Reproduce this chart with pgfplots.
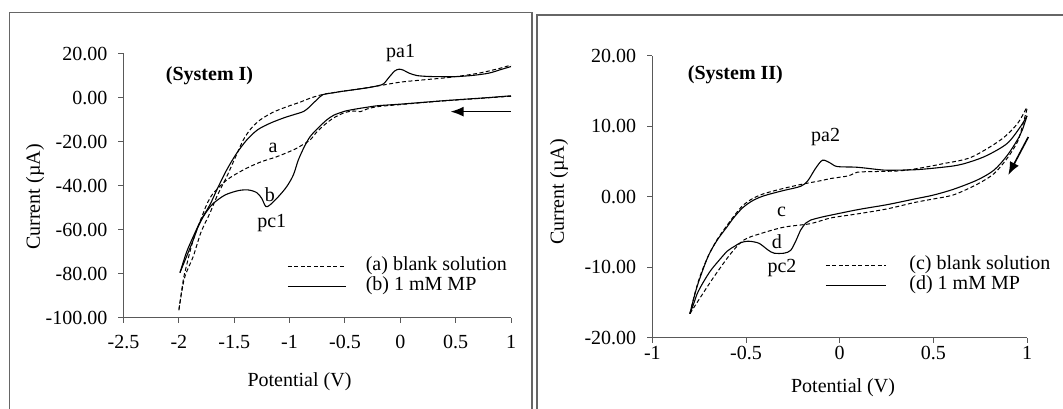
\documentclass[border=0pt]{standalone}
\usepackage{fontspec}
\setmainfont{Liberation Serif}
\usepackage{pgfplots}
\pgfplotsset{compat=1.18}
\usetikzlibrary{arrows.meta}

\pgfplotsset{
  cvaxis/.style={
    scale only axis,
    axis x line*=bottom, axis y line*=left,
    axis line style={-, black!65, line width=1pt},
    tick style={black!65, line width=1pt},
    tick align=outside, major tick length=5pt,
    clip=false,
    yticklabel style={anchor=east, inner sep=0pt, xshift=-11pt},
    legend cell align=left,
    legend style={draw=none, fill=none, inner sep=0pt, anchor=north west,
      row sep=0pt,
      nodes={inner sep=0pt, text height=14pt, text depth=6pt}},
  },
  blank/.style={black, line width=1pt, dash pattern=on 4pt off 2.5pt},
  mp/.style={black, line width=1.1pt},
}

\begin{document}
\fontsize{20}{24}\selectfont
\begin{tikzpicture}[x=1pt,y=1pt]
\path[use as bounding box] (0,0) rectangle (1063,409);

% panel frames
\draw[black!60, line width=1.2pt] (9.5,-5) |- (532,396.5) -- (532,-5);
\draw[black!60, line width=1.2pt] (537,-5) |- (1075,394);

% ---------------- System I ----------------
\begin{axis}[cvaxis,
  at={(123.5pt,91pt)}, anchor=south west,
  width=387.5pt, height=264pt,
  xmin=-2.5, xmax=1, ymin=-100, ymax=20,
  xtick={-2.5,-2,-1.5,-1,-0.5,0,0.5,1},
  xticklabels={-2.5,-2,-1.5,-1,-0.5,0,0.5,1},
  xticklabel style={anchor=base, inner sep=0pt, yshift=-25.5pt},
  ytick={-100,-80,-60,-40,-20,0,20},
  yticklabels={-100.00,-80.00,-60.00,-40.00,-20.00,0.00,20.00},
  legend style={at={(0.422,0.235)},
    /tikz/every odd column/.append style={column sep=19.5pt}},
  legend image code/.code={\draw[#1] (0pt,0pt) -- (58pt,0pt);},
]
% (a) blank solution, cathodic then anodic sweep
\addplot[blank, smooth] coordinates {
 (1,0.8) (0.8,0.1) (0.6,-0.6) (0.4,-1.3) (0.2,-2.1) (0,-3.0) (-0.2,-3.9)
 (-0.3,-5.0) (-0.36,-6.2) (-0.42,-5.9) (-0.5,-6.6) (-0.6,-9.0) (-0.68,-12.0)
 (-0.755,-15.5) (-0.815,-19.1) (-0.9,-21.8) (-0.966,-23.6) (-1.116,-26.7)
 (-1.267,-29.2) (-1.418,-32.7) (-1.568,-37.3) (-1.689,-43.3) (-1.74,-47.5)
 (-1.78,-52.4) (-1.87,-64.5) (-1.93,-76) (-1.96,-82.7) (-2,-96.5)};
\addlegendentry{(a) blank solution}
% (b) 1 mM MP, cathodic then anodic sweep
\addplot[mp, smooth] coordinates {
 (1,1.0) (0.8,0.2) (0.6,-0.5) (0.4,-1.2) (0.2,-2.0) (0,-2.8) (-0.2,-3.5)
 (-0.3,-4.2) (-0.4,-5.0) (-0.5,-6.0) (-0.6,-7.8) (-0.665,-10) (-0.74,-13.5)
 (-0.815,-17.6) (-0.87,-22.5) (-0.921,-28.2) (-0.966,-35) (-1.026,-40.3)
 (-1.102,-44.9) (-1.177,-48.6) (-1.215,-49.3) (-1.252,-45.6) (-1.297,-43)
 (-1.373,-41.8) (-1.463,-42.1) (-1.583,-44.1) (-1.689,-47.9) (-1.74,-51)
 (-1.78,-54) (-1.83,-59) (-1.87,-64.5) (-1.93,-72) (-1.99,-79.4)};
\addlegendentry{(b) 1 mM MP}
\addplot[blank, smooth, forget plot] coordinates {
 (-2,-96.5) (-1.95,-82) (-1.87,-72) (-1.8,-61) (-1.72,-52.4) (-1.65,-44)
 (-1.568,-35.8) (-1.49,-27) (-1.418,-19.1) (-1.35,-14) (-1.267,-10)
 (-1.15,-6.5) (-1.026,-4) (-0.9,-1.8) (-0.815,-0.1) (-0.7,1.6) (-0.544,2.9)
 (-0.4,3.9) (-0.2,5.5) (0,7.2) (0.2,8.2) (0.45,9.4) (0.7,11.2) (0.9,13.5)
 (1,15)};
\addplot[mp, smooth, forget plot] coordinates {
 (-1.99,-79.4) (-1.93,-70) (-1.87,-63) (-1.8,-55.5) (-1.72,-48.6)
 (-1.65,-41) (-1.568,-32.7) (-1.48,-25.3) (-1.387,-19.1) (-1.29,-14.5)
 (-1.177,-11.5) (-1.05,-9.0) (-0.95,-7.4) (-0.876,-6.2) (-0.83,-4.5)
 (-0.79,-2.5) (-0.755,-0.9) (-0.7,1.5) (-0.6,2.4) (-0.544,2.9) (-0.4,3.9)
 (-0.3,4.6) (-0.2,5.6) (-0.15,6.5) (-0.1,9.5) (-0.05,12.3) (-0.01,13.1)
 (0.03,12.6) (0.08,11.3) (0.15,10.2) (0.25,9.8) (0.36,9.7) (0.5,9.7)
 (0.66,10.3) (0.8,11.3) (0.9,12.8) (1,14.3)};
\node[font=\bfseries, anchor=west] at (axis cs:-2.179,10) {(System I)};
\node at (axis cs:0.003,20.45) {pa1};
\node at (axis cs:-1.149,-22.7) {a};
\node at (axis cs:-1.177,-44.1) {b};
\node at (axis cs:-1.161,-57) {pc1};
\draw[-{Latex[length=13pt,width=10pt]}, line width=1.6pt] (axis cs:0.996,-6.2) -- (axis cs:0.454,-6.2);
\end{axis}

% ---------------- System II ----------------
\begin{axis}[cvaxis,
  at={(652.4pt,71.3pt)}, anchor=south west,
  width=374.6pt, height=281.7pt,
  xmin=-1, xmax=1, ymin=-20, ymax=20,
  xtick={-1,-0.5,0,0.5,1},
  xticklabels={-1,-0.5,0,0.5,1},
  xticklabel style={anchor=base, inner sep=0pt, yshift=-17pt},
  ytick={-20,-10,0,10,20},
  yticklabels={-20.00,-10.00,0.00,10.00,20.00},
  legend style={at={(0.461,0.2936)},
    /tikz/every odd column/.append style={column sep=23pt}},
  legend image code/.code={\draw[#1] (0pt,0pt) -- (60pt,0pt);},
]
% (c) blank solution
\addplot[blank, smooth] coordinates {
 (1,12.5) (0.975,10) (0.949,7.8) (0.895,5.5) (0.824,3.3) (0.735,1.8)
 (0.61,0.3) (0.5,-0.3) (0.4,-0.8) (0.255,-1.7) (0.1,-2.4) (-0.048,-3.0)
 (-0.155,-3.8) (-0.297,-4.3) (-0.42,-5.2) (-0.51,-6.1) (-0.58,-8)
 (-0.67,-11.3) (-0.742,-14.2) (-0.8,-16.6)};
\addlegendentry{(c) blank solution}
% (d) 1 mM MP
\addplot[mp, smooth] coordinates {
 (1,11.5) (0.975,9.5) (0.949,8.1) (0.895,5.9) (0.824,3.8) (0.735,2.4)
 (0.61,1.1) (0.5,0.25) (0.4,-0.3) (0.255,-1.1) (0.1,-1.8) (-0.048,-2.6)
 (-0.1,-2.9) (-0.155,-3.3) (-0.18,-3.7) (-0.208,-4.7) (-0.235,-6.3)
 (-0.262,-7.6) (-0.297,-8.0) (-0.35,-8.0) (-0.38,-7.6) (-0.404,-7.1)
 (-0.43,-6.6) (-0.457,-6.4) (-0.49,-6.3) (-0.528,-6.5) (-0.56,-7.0)
 (-0.6,-7.7) (-0.65,-9.2) (-0.69,-10.5) (-0.73,-12.2) (-0.76,-13.7)
 (-0.78,-15.2) (-0.8,-16.6)};
\addlegendentry{(d) 1 mM MP}
\addplot[blank, smooth, forget plot] coordinates {
 (-0.8,-16.6) (-0.77,-13.4) (-0.742,-11.0) (-0.7,-8.3) (-0.653,-6.0)
 (-0.6,-4.0) (-0.564,-2.7) (-0.52,-1.3) (-0.475,-0.4) (-0.43,0.2)
 (-0.386,0.6) (-0.3,1.2) (-0.2,1.8) (-0.1,2.3) (-0.048,2.6) (0.05,3.0)
 (0.094,3.5) (0.2,3.6) (0.325,3.7) (0.432,4.1) (0.55,4.7) (0.7,5.6)
 (0.86,8.1) (0.949,10.4) (1,12.8)};
\addplot[mp, smooth, forget plot] coordinates {
 (-0.8,-16.6) (-0.77,-13.5) (-0.742,-11.2) (-0.7,-8.3) (-0.653,-6.1)
 (-0.6,-4.2) (-0.564,-2.9) (-0.52,-1.6) (-0.475,-0.7) (-0.43,-0.1)
 (-0.386,0.3) (-0.3,0.9) (-0.208,1.5) (-0.17,2.3) (-0.13,4.0) (-0.092,5.2)
 (-0.05,4.8) (-0.013,4.3) (0.094,4.2) (0.236,3.8) (0.325,3.8) (0.432,3.9)
 (0.61,4.4) (0.7,5.0) (0.788,5.9) (0.895,7.6) (0.966,10) (1,11.5)};
\node[font=\bfseries, anchor=west] at (axis cs:-0.847,17.3) {(System II)};
\node at (axis cs:-0.075,8.5) {pa2};
\node at (axis cs:-0.31,-2.1) {c};
\node at (axis cs:-0.335,-6.4) {d};
\node at (axis cs:-0.308,-10.1) {pc2};
\draw[-{Latex[length=13pt,width=10pt]}, line width=1.6pt] (axis cs:1.007,8.5) -- (axis cs:0.9,3.1);
\end{axis}

% axis titles
\node[rotate=90] at (35,212) {Current (µA)};
\node at (299.5,27) {Potential (V)};
\node[rotate=90] at (559,217) {Current (µA)};
\node at (843,21) {Potential (V)};
\end{tikzpicture}
\end{document}
